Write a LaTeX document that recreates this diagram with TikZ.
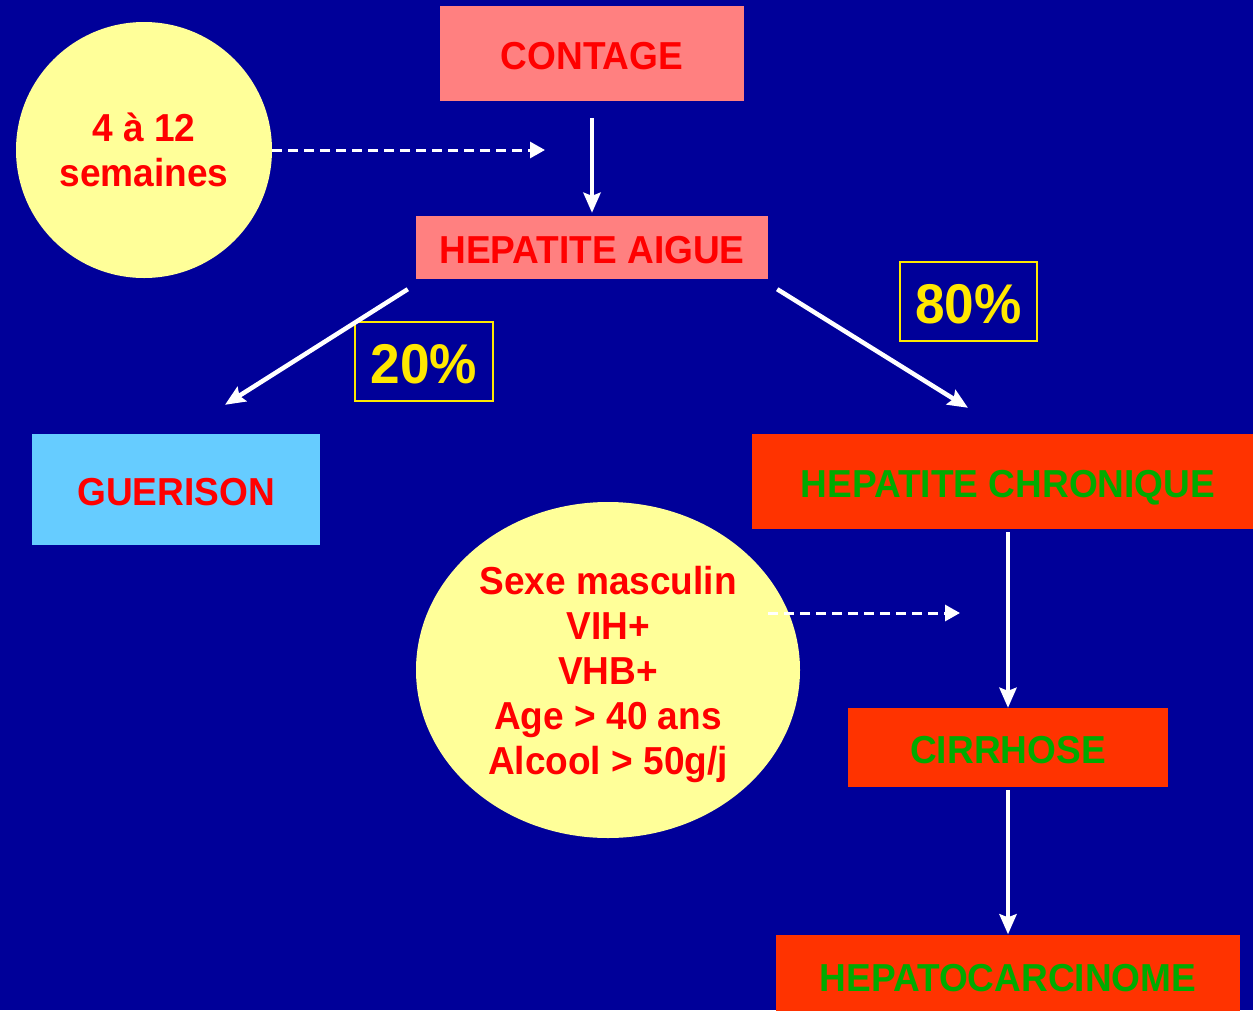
\documentclass[tikz,border=0pt]{standalone}
\usepackage{fontspec}
\setmainfont{Liberation Sans}[FakeStretch=0.95]
\usepackage{xcolor}
\usepackage{tikz}
\usetikzlibrary{shapes.geometric, arrows.meta, positioning}
\definecolor{fond}{HTML}{000099}
\definecolor{saumon}{HTML}{FF8080}
\definecolor{rouge}{HTML}{FF0000}
\definecolor{vert}{HTML}{00AA00}
\definecolor{vermillon}{HTML}{FF3300}
\definecolor{ciel}{HTML}{66CCFF}
\definecolor{jaunepale}{HTML}{FFFF99}
\definecolor{jaune}{HTML}{FFE800}
\tikzstyle{boite} = [rectangle, inner sep=0pt, text centered, text height=31pt, text depth=0pt, font=\bfseries\fontsize{39}{45}\selectfont]
\tikzstyle{rose} = [boite, fill=saumon, text=rouge]
\tikzstyle{stade} = [boite, fill=vermillon, text=vert]
\tikzstyle{bulle} = [ellipse, inner sep=0pt, fill=jaunepale, text=rouge, align=center, text depth=0pt, font=\bfseries\fontsize{39}{45}\selectfont]
\tikzstyle{taux} = [rectangle, inner sep=0pt, draw=jaune, line width=1.5pt, text=jaune, text height=44pt, text depth=0pt, font=\bfseries\fontsize{56}{60}\selectfont]
\tikzstyle{arrow} = [white, line width=4.5pt, -{Stealth[length=20pt, width=17pt, inset=3pt]}]
\tikzstyle{dasharrow} = [white, line width=3pt, dash pattern=on 10pt off 6pt, -{Triangle[length=15pt, width=16pt]}]

\begin{document}
\begin{tikzpicture}[x=1pt, y=-1pt, node distance=0pt]
\clip (0,0) rectangle (1253,1010);
\fill [fond] (0,0) rectangle (1253,1010);

% Noeuds principaux
\node (contage) [rose, minimum width=304pt, minimum height=95pt] at (592,53.5) {CONTAGE};
\node (aigue) [rose, minimum width=352pt, minimum height=63pt, below of=contage, yshift=-194pt] {HEPATITE AIGUE};

\node (guerison) [boite, fill=ciel, text=rouge, minimum width=288pt, minimum height=111pt] at (176,489.5) {GUERISON};
\node (chronique) [stade, minimum width=512pt, minimum height=95pt] at (1008,481.5) {HEPATITE CHRONIQUE};
\node (cirrhose) [stade, minimum width=320pt, minimum height=79pt, below of=chronique, yshift=-266pt] {CIRRHOSE};
\node (carcinome) [stade, minimum width=464pt, minimum height=82pt, below of=cirrhose, yshift=-228pt] {HEPATOCARCINOME};

\node (delai) [bulle, circle, minimum size=256pt] at (144,150) {4 à 12\\semaines};
\node (facteurs) [bulle, minimum width=384pt, minimum height=336pt] at (608,670) {Sexe masculin\\VIH+\\VHB+\\Age > 40 ans\\Alcool > 50g/j};

\node (pct20) [taux, minimum width=138pt, minimum height=79pt] at (424,361.5) {20\%};
\node (pct80) [taux, minimum width=137pt, minimum height=79pt] at (968.5,301.5) {80\%};

\coordinate (incubation) at (545,150);
\coordinate (risque) at (960,613);

% Fleches
\draw [arrow, shorten <=17pt, shorten >=3pt] (contage) -- (aigue);
\draw [arrow] ([shift={(-8pt,-10pt)}]aigue.south west) -- ([shift={(49pt,29pt)}]guerison.north);
\draw [arrow] ([shift={(9pt,-10pt)}]aigue.south east) -- ([shift={(-40pt,26pt)}]chronique.north);
\draw [arrow, shorten <=3pt] (chronique) -- (cirrhose);
\draw [arrow, shorten <=3pt] (cirrhose) -- (carcinome);

\draw [dasharrow] (delai) -- (incubation);
\draw [dasharrow] ([shift={(-32pt,57pt)}]facteurs.east) -- (risque);

\end{tikzpicture}
\end{document}
